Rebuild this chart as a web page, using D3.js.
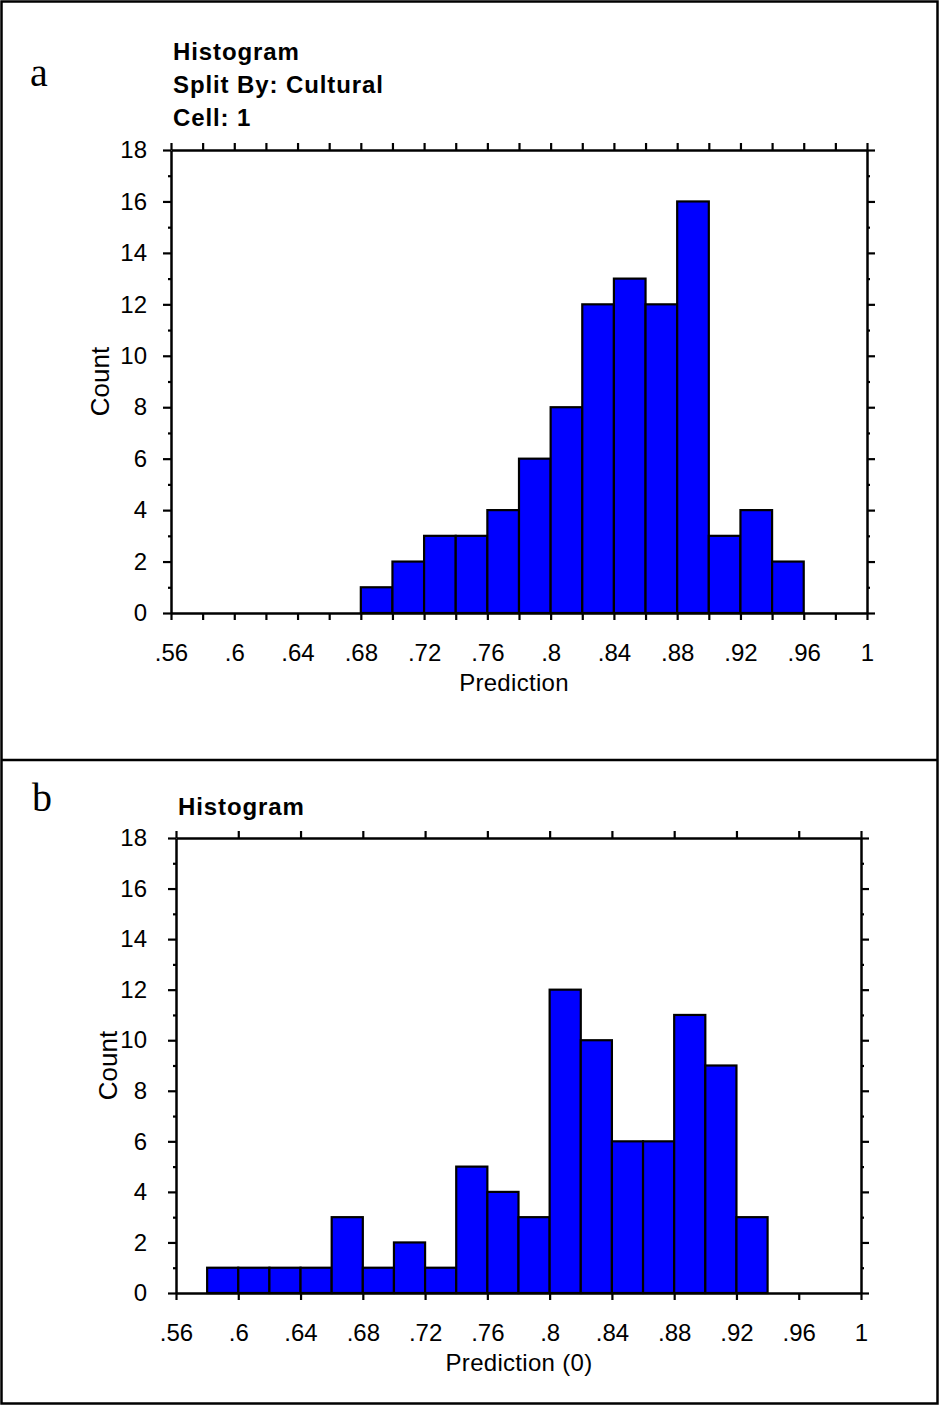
<!DOCTYPE html>
<html>
<head>
<meta charset="utf-8">
<script src="https://cdn.jsdelivr.net/npm/d3@7"></script>
<style>
  html, body { margin: 0; padding: 0; background: #fff; }
  svg { display: block; }
  text { font-family: "Liberation Sans", Arial, sans-serif; fill: #000; }
</style>
</head>
<body>
<svg id="chart" width="941" height="1406"></svg>
<script>
// ---------- DATA ----------
const xDomain = [0.56, 1.0];
const yDomain = [0, 18];
const binWidth = 0.02;

// Panel a
const titleA = ["Histogram", "Split By: Cultural", "Cell: 1"];
const binStartsA = [0.68, 0.70, 0.72, 0.74, 0.76, 0.78, 0.80, 0.82, 0.84, 0.86, 0.88, 0.90, 0.92, 0.94];
const countsA    = [1,    2,    3,    3,    4,    6,    8,    12,   13,   12,   16,   3,    4,    2];
const xLabelA = "Prediction";

// Panel b
const titleB = ["Histogram"];
const binStartsB = [0.58, 0.60, 0.62, 0.64, 0.66, 0.68, 0.70, 0.72, 0.74, 0.76, 0.78, 0.80, 0.82, 0.84, 0.86, 0.88, 0.90, 0.92];
const countsB    = [1,    1,    1,    1,    3,    1,    2,    1,    5,    4,    3,    12,   10,   6,    6,    11,   9,    3];
const xLabelB = "Prediction (0)";

const xMajorTicks = [0.56, 0.60, 0.64, 0.68, 0.72, 0.76, 0.80, 0.84, 0.88, 0.92, 0.96, 1.00];
const xMinorTicks = [0.58, 0.62, 0.66, 0.70, 0.74, 0.78, 0.82, 0.86, 0.90, 0.94, 0.98];
const yMajorTicks = [0, 2, 4, 6, 8, 10, 12, 14, 16, 18];
const yMinorTicks = [1, 3, 5, 7, 9, 11, 13, 15, 17];
const yLabel = "Count";

// ---------- DRAW ----------
const svg = d3.select("#chart");

// outer frame + divider
svg.append("rect").attr("x", 1.5).attr("y", 1.5).attr("width", 936).attr("height", 1402)
  .attr("fill", "none").attr("stroke", "#000").attr("stroke-width", 2.5);
svg.append("line").attr("x1", 1).attr("x2", 938).attr("y1", 760).attr("y2", 760)
  .attr("stroke", "#000").attr("stroke-width", 2.5);

const fmtX = v => (v >= 1 ? "1" : d3.format(".2~f")(v).replace(/^0/, ""));

function drawPanel(cfg) {
  const x = d3.scaleLinear().domain(xDomain).range([cfg.left, cfg.right]);
  const y = d3.scaleLinear().domain(yDomain).range([cfg.bottom, cfg.top]);
  const g = svg.append("g");

  // panel letter
  g.append("text").attr("x", cfg.letterX).attr("y", cfg.letterY)
    .style("font-family", "'Liberation Serif','Times New Roman',serif")
    .style("font-size", "40px").text(cfg.letter);

  // titles
  cfg.title.forEach((t, i) => {
    g.append("text").attr("x", cfg.left + 2).attr("y", cfg.titleY + i * 33)
      .style("font-size", "24px").style("font-weight", "bold")
      .style("letter-spacing", "0.9px").text(t);
  });

  // bars
  g.append("g").selectAll("rect").data(cfg.starts.map((s, i) => ({ s, c: cfg.counts[i] })))
    .join("rect")
    .attr("x", d => x(d.s))
    .attr("y", d => y(d.c))
    .attr("width", d => x(d.s + binWidth) - x(d.s))
    .attr("height", d => y(0) - y(d.c))
    .attr("fill", "#0000ff")
    .attr("stroke", "#000")
    .attr("stroke-width", 2.2);

  const xTicksOuter = cfg.minorX ? xMajorTicks.concat(xMinorTicks) : xMajorTicks;

  // bottom axis (labels)
  const bottomAx = d3.axisBottom(x).tickValues(xMajorTicks).tickFormat(fmtX)
    .tickSize(7).tickSizeOuter(0).tickPadding(24);
  g.append("g").attr("transform", `translate(0,${cfg.bottom})`).call(bottomAx);
  if (cfg.minorX) {
    g.append("g").attr("transform", `translate(0,${cfg.bottom})`)
      .call(d3.axisBottom(x).tickValues(xMinorTicks).tickFormat("").tickSize(7).tickSizeOuter(0))
      .select(".domain").remove();
  }
  // top axis
  g.append("g").attr("transform", `translate(0,${cfg.top})`)
    .call(d3.axisTop(x).tickValues(xTicksOuter).tickFormat("").tickSize(7).tickSizeOuter(0));

  // left axis
  g.append("g").attr("transform", `translate(${cfg.left},0)`)
    .call(d3.axisLeft(y).tickValues(yMajorTicks).tickSize(8).tickSizeOuter(0).tickPadding(cfg.yPad));
  g.append("g").attr("transform", `translate(${cfg.left},0)`)
    .call(d3.axisLeft(y).tickValues(yMinorTicks).tickFormat("").tickSize(3).tickSizeOuter(0))
    .select(".domain").remove();
  // right axis
  g.append("g").attr("transform", `translate(${cfg.right},0)`)
    .call(d3.axisRight(y).tickValues(yMajorTicks).tickFormat("").tickSize(8).tickSizeOuter(0));
  g.append("g").attr("transform", `translate(${cfg.right},0)`)
    .call(d3.axisRight(y).tickValues(yMinorTicks).tickFormat("").tickSize(3).tickSizeOuter(0))
    .select(".domain").remove();

  g.selectAll(".domain").attr("stroke", "#000").attr("stroke-width", 2.5);
  g.selectAll(".tick line").attr("stroke", "#000").attr("stroke-width", 2.2);
  g.selectAll(".tick text").style("font-size", "24px").attr("fill", "#000")
    .style("font-family", "'Liberation Sans',Arial,sans-serif");

  // axis titles
  g.append("text").attr("x", cfg.xLabelX).attr("y", cfg.xLabelY)
    .attr("text-anchor", "middle").style("font-size", "24px")
    .style("letter-spacing", "0.3px").text(cfg.xLabel);
  g.append("text")
    .attr("transform", `translate(${cfg.yLabelX},${(cfg.top + cfg.bottom) / 2}) rotate(-90)`)
    .attr("text-anchor", "middle").style("font-size", "26px").text(yLabel);
}

drawPanel({
  letter: "a", letterX: 30, letterY: 86,
  title: titleA, titleY: 60,
  starts: binStartsA, counts: countsA,
  left: 171, right: 867, top: 150, bottom: 613,
  minorX: true, yPad: 16,
  xLabel: xLabelA, xLabelX: 514, xLabelY: 691, yLabelX: 109
});

drawPanel({
  letter: "b", letterX: 32, letterY: 811,
  title: titleB, titleY: 815,
  starts: binStartsB, counts: countsB,
  left: 176, right: 861, top: 838, bottom: 1293,
  minorX: false, yPad: 21,
  xLabel: xLabelB, xLabelX: 519, xLabelY: 1371, yLabelX: 117
});
</script>
</body>
</html>
